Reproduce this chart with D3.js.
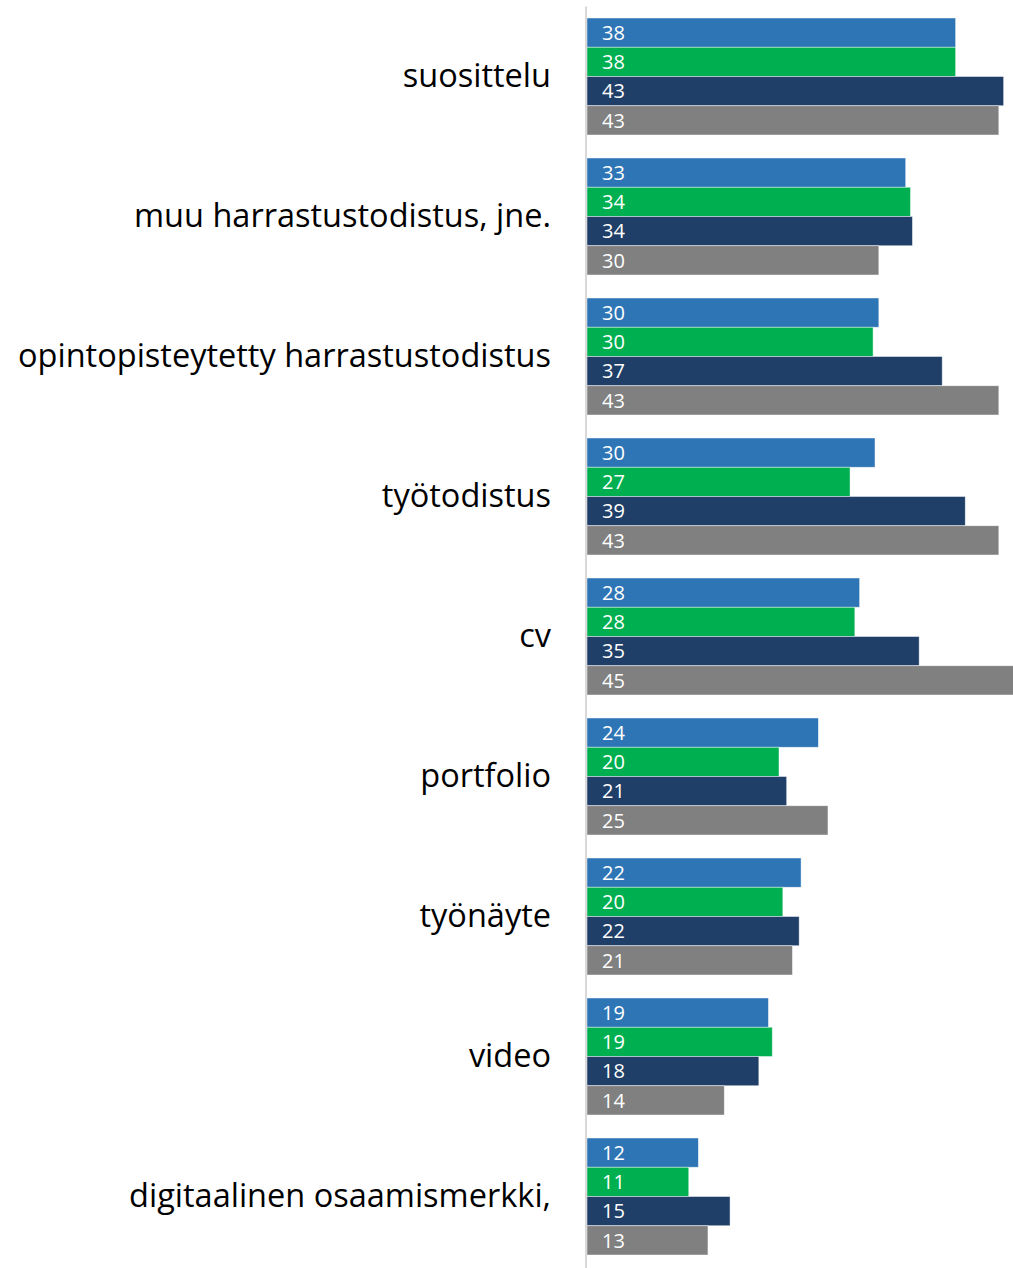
<!DOCTYPE html>
<html>
<head>
<meta charset="utf-8">
<script src="https://cdn.jsdelivr.net/npm/d3@7"></script>
<style>
  body { margin: 0; background: #fff; }
</style>
</head>
<body>
<div id="chart"></div>
<script>
// Data
var categories = ["suosittelu", "muu harrastustodistus, jne.", "opintopisteytetty harrastustodistus",
  "työtodistus", "cv", "portfolio", "työnäyte", "video", "digitaalinen osaamismerkki,"];
var seriesNames = ["s1", "s2", "s3", "s4"];
var seriesColors = ["#2E75B6", "#00B050", "#1F3F68", "#808080"];
var s1 = [38.4, 33.2, 30.4, 30.0, 28.4, 24.1, 22.3, 18.9, 11.6];
var s2 = [38.4, 33.7, 29.8, 27.4, 27.9, 20.0, 20.4, 19.3, 10.6];
var s3 = [43.4, 33.9, 37.0, 39.4, 34.6, 20.8, 22.1, 17.9, 14.9];
var s4 = [42.9, 30.4, 42.9, 42.9, 45.0, 25.1, 21.4, 14.3, 12.6];
var seriesValues = [s1, s2, s3, s4];

// Set up the chart
var svgWidth = 1013;
var svgHeight = 1268;
var margin = { top: 6.5, right: 0, bottom: 1.5, left: 587 };
var height = svgHeight - margin.top - margin.bottom;

var svg = d3.select("#chart")
  .append("svg")
  .attr("width", svgWidth)
  .attr("height", svgHeight);

var chartGroup = svg.append("g")
  .attr("transform", `translate(${margin.left}, ${margin.top})`);

// Scales
var yScale = d3.scaleBand()
  .domain(categories)
  .range([0, height])
  .paddingInner(23 / 140)
  .paddingOuter(11.5 / 140);

var ySub = d3.scaleBand()
  .domain(seriesNames)
  .range([0, yScale.bandwidth()]);

var xScale = d3.scaleLinear()
  .domain([0, 45])
  .range([0, 45 * 9.6]);

// Bars
var groups = chartGroup.selectAll(".grp")
  .data(categories)
  .enter()
  .append("g")
  .attr("class", "grp")
  .attr("transform", d => `translate(0, ${yScale(d)})`);

groups.each(function(cat, i) {
  var g = d3.select(this);
  var rows = seriesNames.map((s, j) => ({ s: s, v: seriesValues[j][i], c: seriesColors[j] }));
  g.selectAll("rect")
    .data(rows)
    .enter()
    .append("rect")
    .attr("x", 0)
    .attr("y", d => ySub(d.s))
    .attr("width", d => xScale(d.v))
    .attr("height", ySub.bandwidth())
    .attr("fill", d => d.c)
    .attr("stroke", "#ffffff")
    .attr("stroke-opacity", 0.6)
    .attr("stroke-width", 0.75);

  g.selectAll("text")
    .data(rows)
    .enter()
    .append("text")
    .attr("x", 15)
    .attr("y", d => ySub(d.s) + ySub.bandwidth() / 2)
    .attr("dy", "0.36em")
    .style("font-family", "'Open Sans', sans-serif")
    .style("font-size", "20px")
    .attr("fill", "#ffffff")
    .text(d => Math.round(d.v));
});

// Category axis
var leftAxis = d3.axisLeft(yScale).tickSize(0).tickPadding(36);
var axisG = chartGroup.append("g").call(leftAxis);
axisG.select(".domain").remove();
axisG.selectAll("text")
  .style("font-family", "'Open Sans', sans-serif")
  .style("font-size", "32.5px")
  .attr("fill", "#000000");

chartGroup.append("line")
  .attr("x1", -1).attr("x2", -1)
  .attr("y1", 0).attr("y2", svgHeight)
  .attr("stroke", "#d9d9d9")
  .attr("stroke-width", 2);
</script>
</body>
</html>
